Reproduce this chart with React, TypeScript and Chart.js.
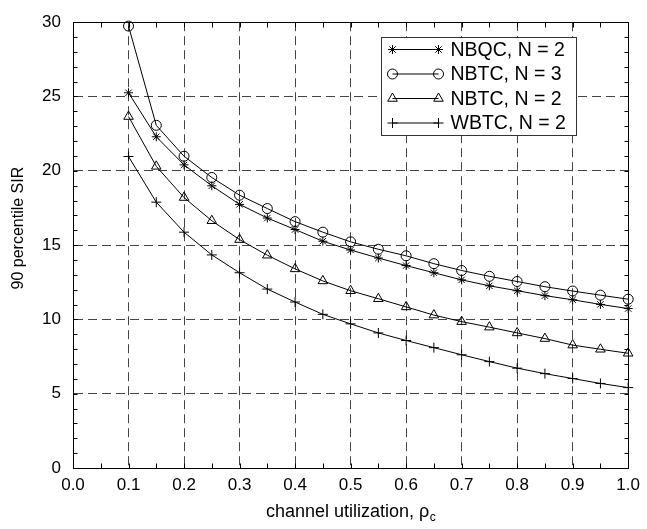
import React, { useEffect, useRef } from 'react';
import { Chart, registerables } from 'chart.js';

Chart.register(...registerables);

// ---------- data ----------
const utilization = [0.1, 0.15, 0.2, 0.25, 0.3, 0.35, 0.4, 0.45, 0.5, 0.55, 0.6, 0.65, 0.7, 0.75, 0.8, 0.85, 0.9, 0.95, 1.0];
const nbqcN2 = [25.25, 22.29, 20.4, 18.99, 17.74, 16.82, 16.05, 15.26, 14.67, 14.13, 13.62, 13.14, 12.66, 12.26, 11.93, 11.6, 11.32, 11.01, 10.73];
const nbtcN3 = [29.74, 23.06, 20.98, 19.55, 18.36, 17.46, 16.58, 15.87, 15.22, 14.72, 14.28, 13.75, 13.29, 12.9, 12.55, 12.2, 11.91, 11.63, 11.36];
const nbtcN2 = [23.65, 20.3, 18.2, 16.64, 15.37, 14.32, 13.4, 12.59, 11.93, 11.39, 10.84, 10.29, 9.85, 9.48, 9.09, 8.71, 8.27, 7.99, 7.72];
const wbtcN2 = [20.96, 17.89, 15.87, 14.34, 13.14, 12.04, 11.17, 10.34, 9.7, 9.09, 8.58, 8.1, 7.62, 7.16, 6.72, 6.35, 6.02, 5.69, 5.41];

const seriesLabels = ['NBQC, N = 2', 'NBTC, N = 3', 'NBTC, N = 2', 'WBTC, N = 2'];
const seriesValues = [nbqcN2, nbtcN3, nbtcN2, wbtcN2];

const xTitle = 'channel utilization, ρ';
const xTitleSub = 'c';
const yTitle = '90 percentile SIR';

const xMin = 0;
const xMax = 1;
const xMajorStep = 0.1;
const xMinorCount = 20; // minor ticks every 0.05
const yMin = 0;
const yMax = 30;
const yMajorStep = 5;
const yMinorCount = 30; // minor ticks every 1

// ---------- styles ----------
const FONT = '"Liberation Sans", Arial, Helvetica, sans-serif';
const markerStyles = ['star', 'circle', 'triangle', 'cross'];
const markerRadii = [4.5, 5, 5.5, 5];
const GRID_COLOR = '#444';

function drawMarker(ctx: CanvasRenderingContext2D, style: string, x: number, y: number, r: number) {
  ctx.beginPath();
  if (style === 'circle') {
    ctx.arc(x, y, r, 0, Math.PI * 2);
  } else if (style === 'triangle') {
    for (let k = 0; k < 3; k++) {
      const ang = -Math.PI / 2 + (k * 2 * Math.PI) / 3;
      const px = x + Math.cos(ang) * r;
      const py = y + Math.sin(ang) * r;
      if (k === 0) ctx.moveTo(px, py);
      else ctx.lineTo(px, py);
    }
    ctx.closePath();
  } else if (style === 'cross') {
    ctx.moveTo(x - r, y);
    ctx.lineTo(x + r, y);
    ctx.moveTo(x, y - r);
    ctx.lineTo(x, y + r);
  } else if (style === 'star') {
    ctx.moveTo(x - r, y);
    ctx.lineTo(x + r, y);
    ctx.moveTo(x, y - r);
    ctx.lineTo(x, y + r);
    const d = r * Math.SQRT1_2;
    ctx.moveTo(x - d, y - d);
    ctx.lineTo(x + d, y + d);
    ctx.moveTo(x - d, y + d);
    ctx.lineTo(x + d, y - d);
  }
  ctx.stroke();
}

const decorPlugin = {
  id: 'decor',
  afterDraw(chart: any) {
    const { ctx, chartArea: a, scales } = chart;
    const xs = scales.x;
    const ys = scales.y;
    const al = (v: number) => Math.round(v) + 0.5;
    ctx.save();
    ctx.setLineDash([]);
    ctx.strokeStyle = '#000';
    ctx.lineWidth = 1;

    // frame
    const L = al(a.left), R = al(a.right), T = al(a.top), B = al(a.bottom);
    ctx.strokeRect(L, T, R - L, B - T);

    // minor ticks (inward, all four sides)
    ctx.beginPath();
    for (let i = 1; i < xMinorCount; i++) {
      const v = xMin + ((xMax - xMin) * i) / xMinorCount;
      const x = al(xs.getPixelForValue(v));
      ctx.moveTo(x, B);
      ctx.lineTo(x, B - 5);
      ctx.moveTo(x, T);
      ctx.lineTo(x, T + 5);
    }
    for (let i = 1; i < yMinorCount; i++) {
      const v = yMin + ((yMax - yMin) * i) / yMinorCount;
      const y = al(ys.getPixelForValue(v));
      ctx.moveTo(L, y);
      ctx.lineTo(L + 4, y);
      ctx.moveTo(R, y);
      ctx.lineTo(R - 4, y);
    }
    ctx.stroke();

    // legend
    const bx = al(a.left + 308);
    const by = al(a.top + 15);
    const bw = 195;
    const bh = 98;
    ctx.fillStyle = '#fff';
    ctx.fillRect(bx, by, bw, bh);
    ctx.strokeStyle = '#333';
    ctx.strokeRect(bx, by, bw, bh);
    ctx.strokeStyle = '#000';
    ctx.fillStyle = '#000';
    ctx.font = '19.5px ' + FONT;
    ctx.textAlign = 'left';
    ctx.textBaseline = 'middle';
    for (let i = 0; i < seriesLabels.length; i++) {
      const cy = by + 12 + i * 24.5;
      const x1 = bx + 11;
      const x2 = bx + 57;
      ctx.beginPath();
      ctx.moveTo(x1, cy);
      ctx.lineTo(x2, cy);
      ctx.stroke();
      drawMarker(ctx, markerStyles[i], x1, cy, markerRadii[i]);
      drawMarker(ctx, markerStyles[i], x2, cy, markerRadii[i]);
      ctx.fillText(seriesLabels[i], bx + 69, cy + 1);
    }

    // axis titles
    ctx.font = '18px ' + FONT;
    const cx = (a.left + a.right) / 2;
    const w = ctx.measureText(xTitle).width;
    ctx.font = '12px ' + FONT;
    const ws = ctx.measureText(xTitleSub).width;
    const startX = cx - (w + ws) / 2;
    ctx.font = '18px ' + FONT;
    ctx.textAlign = 'left';
    ctx.fillText(xTitle, startX, 512);
    ctx.font = '12px ' + FONT;
    ctx.fillText(xTitleSub, startX + w + 0.5, 518);

    ctx.save();
    ctx.translate(19, (a.top + a.bottom) / 2 - 17);
    ctx.rotate(-Math.PI / 2);
    ctx.font = '16px ' + FONT;
    ctx.textAlign = 'center';
    ctx.textBaseline = 'middle';
    ctx.fillText(yTitle, 0, 0);
    ctx.restore();

    ctx.restore();
  },
};

export default function App() {
  const ref = useRef<HTMLCanvasElement | null>(null);

  useEffect(() => {
    if (!ref.current) return;
    const datasets = seriesValues.map((vals, i) => ({
      label: seriesLabels[i],
      data: utilization.map((x, j) => ({ x, y: vals[j] })),
      borderColor: '#000',
      borderWidth: 1,
      backgroundColor: 'rgba(0,0,0,0)',
      pointStyle: markerStyles[i] as any,
      pointRadius: markerRadii[i],
      pointBorderColor: '#000',
      pointBackgroundColor: 'rgba(0,0,0,0)',
      pointBorderWidth: 1,
      tension: 0,
      fill: false,
      clip: false as any,
    }));

    const chart = new Chart(ref.current, {
      type: 'line',
      data: { datasets },
      options: {
        animation: false,
        responsive: false,
        devicePixelRatio: 1,
        layout: { padding: { top: 12, right: 16, left: 0, bottom: 0 } },
        plugins: {
          legend: { display: false },
          tooltip: { enabled: false },
        },
        scales: {
          x: {
            type: 'linear',
            min: xMin,
            max: xMax,
            afterFit: (s: any) => {
              s.height = 61;
            },
            ticks: {
              stepSize: xMajorStep,
              autoSkip: false,
              maxRotation: 0,
              padding: 7,
              color: '#000',
              font: { family: FONT, size: 17 },
              callback: (v: any) => Number(v).toFixed(1),
            },
            grid: {
              drawTicks: false,
              lineWidth: 1,
              color: (c: any) =>
                c.tick && (Math.abs(c.tick.value - xMin) < 1e-6 || Math.abs(c.tick.value - xMax) < 1e-6)
                  ? 'rgba(0,0,0,0)'
                  : GRID_COLOR,
            },
            border: { display: true, color: '#000', width: 1, dash: [9, 5] },
          },
          y: {
            type: 'linear',
            min: yMin,
            max: yMax,
            afterFit: (s: any) => {
              s.width = 73;
            },
            ticks: {
              stepSize: yMajorStep,
              padding: 12,
              color: '#000',
              font: { family: FONT, size: 17 },
            },
            grid: {
              drawTicks: false,
              lineWidth: 1,
              color: (c: any) =>
                c.tick && (Math.abs(c.tick.value - yMin) < 1e-6 || Math.abs(c.tick.value - yMax) < 1e-6)
                  ? 'rgba(0,0,0,0)'
                  : GRID_COLOR,
            },
            border: { display: true, color: '#000', width: 1, dash: [9, 5] },
          },
        },
      },
      plugins: [decorPlugin],
    });
    return () => chart.destroy();
  }, []);

  return (
    <div style={{ position: 'absolute', left: 0, top: 0, width: 647, height: 529, background: '#fff' }}>
      <canvas ref={ref} width={647} height={529} style={{ display: 'block' }} />
    </div>
  );
}
